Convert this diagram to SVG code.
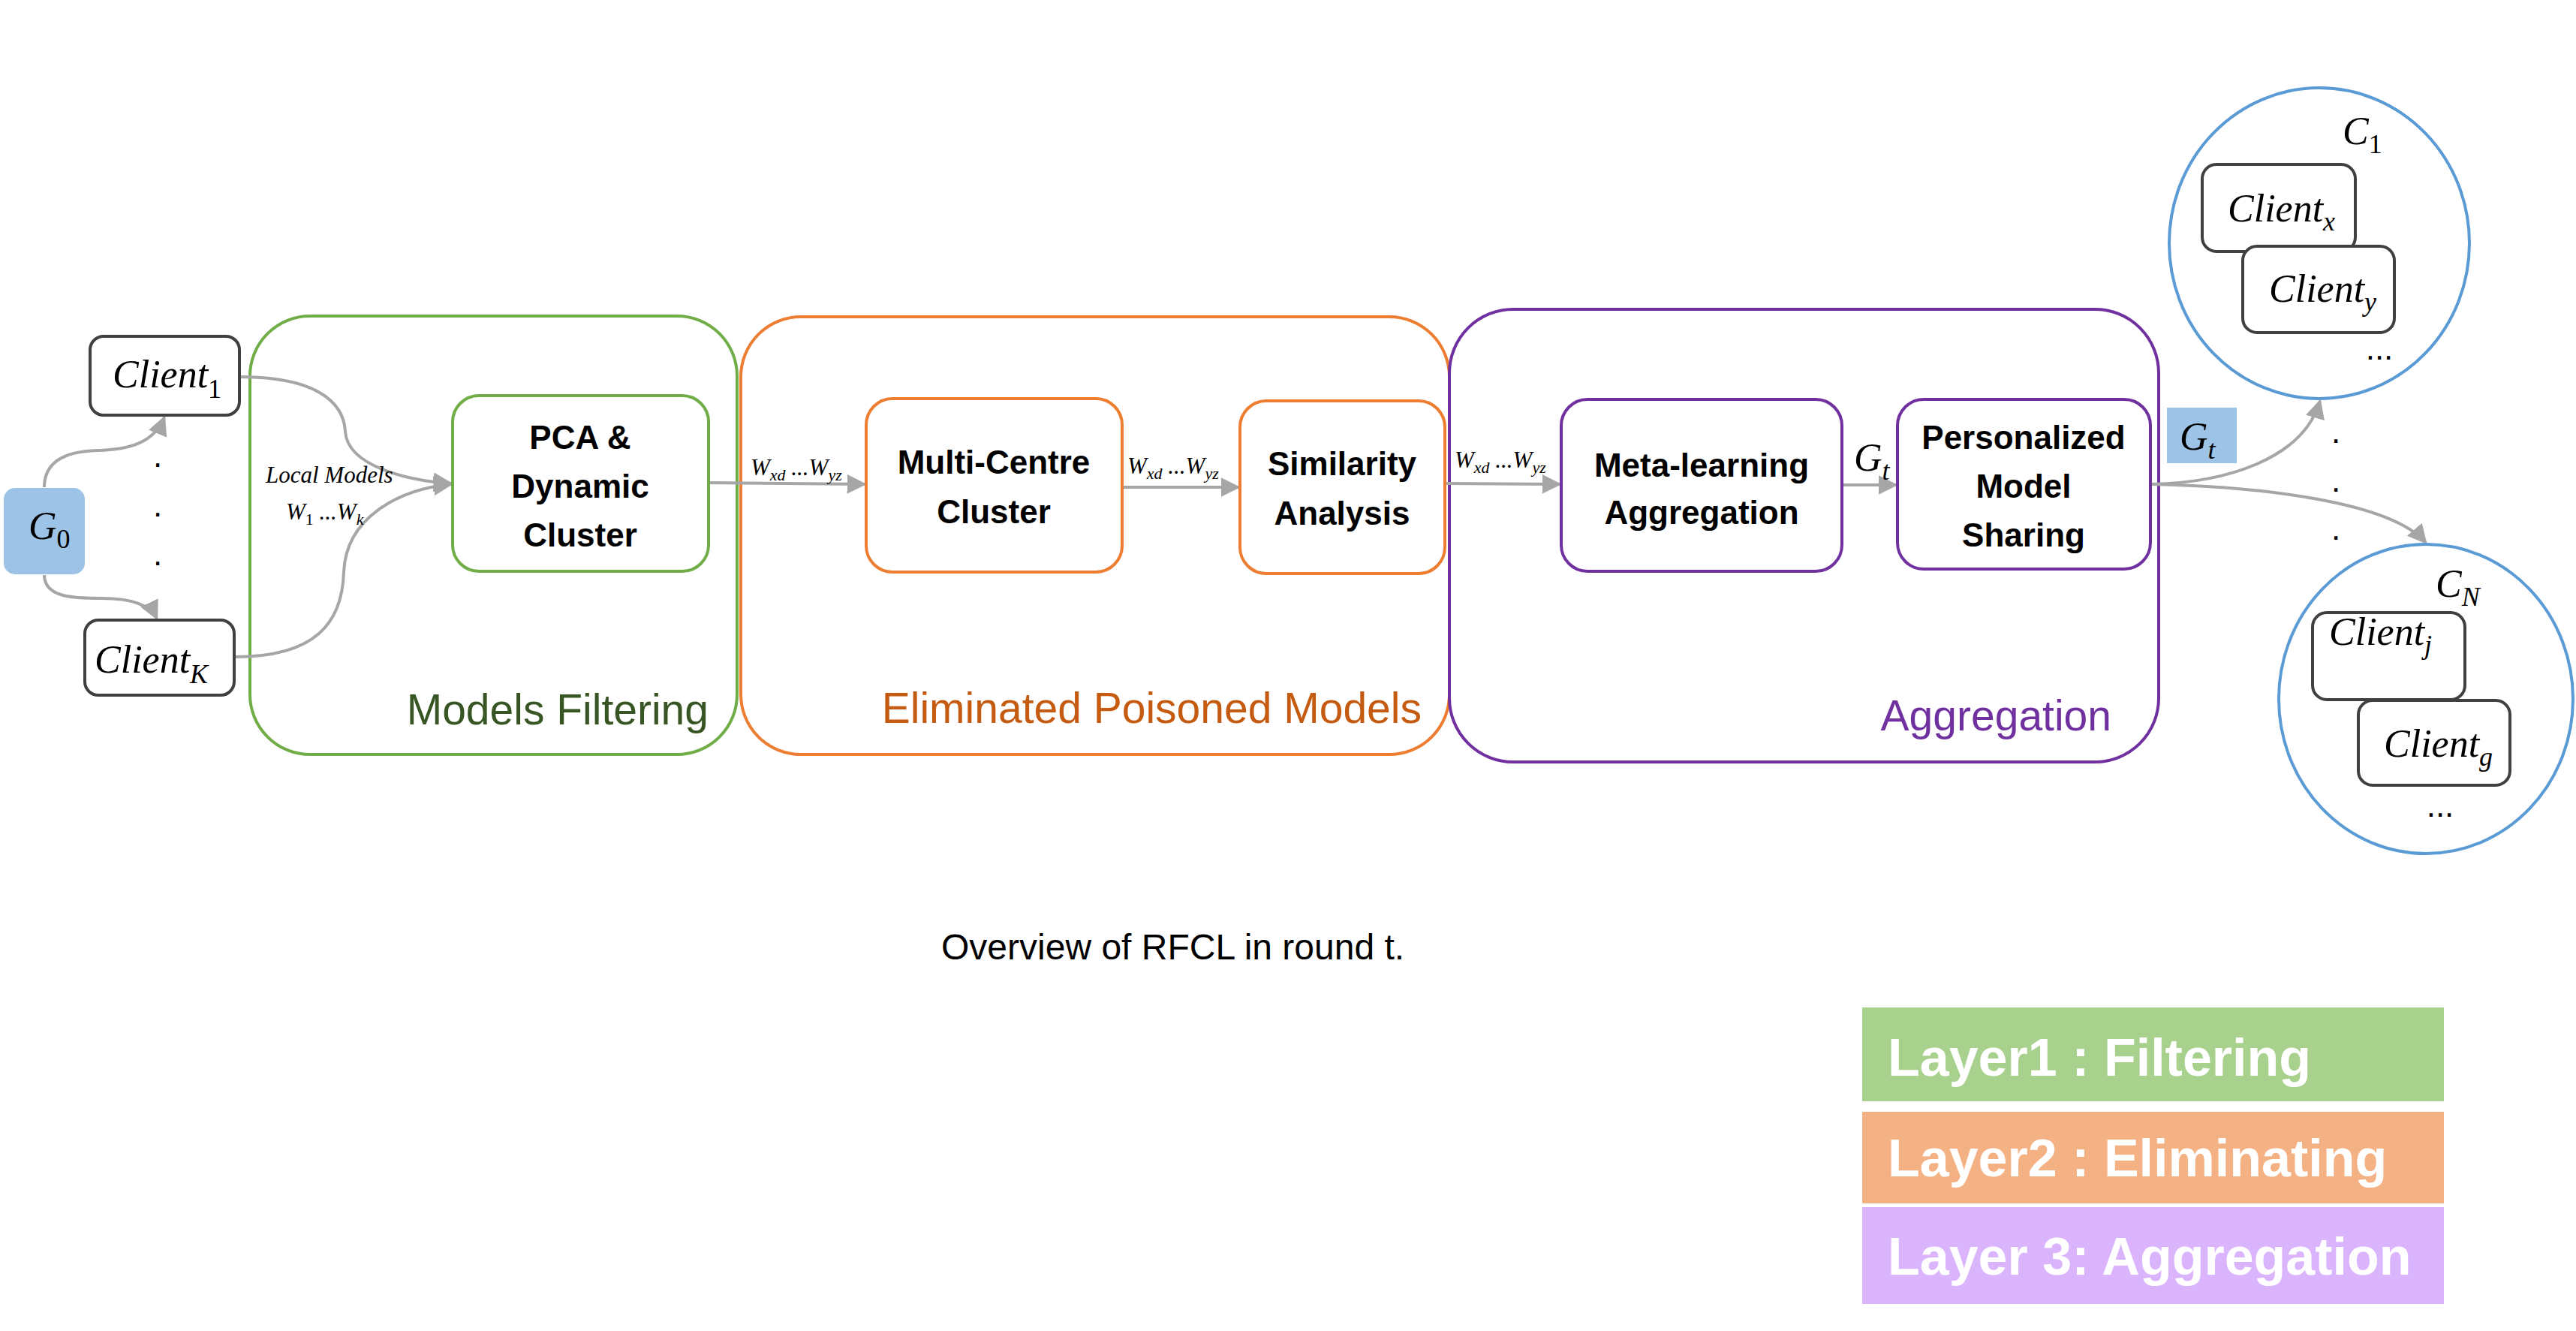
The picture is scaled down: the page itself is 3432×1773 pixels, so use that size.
<svg xmlns="http://www.w3.org/2000/svg" width="3432" height="1773" viewBox="0 0 3432 1773">
<style>
.bg{fill:#ffffff}
.outer{fill:none;stroke-width:4}
.inner{fill:#ffffff;stroke-width:4}
.green{stroke:#70AD47}
.orange{stroke:#ED7D31}
.purple{stroke:#7030A0}
.client{fill:#ffffff;stroke:#404040;stroke-width:4}
.circ{fill:#ffffff;stroke:#5B9BD5;stroke-width:4}
.conn{fill:none;stroke:#A6A6A6;stroke-width:4}
.bold{font-family:"Liberation Sans",Arial,sans-serif;font-weight:bold;font-size:44px;fill:#000;text-anchor:middle}
.math{font-family:"Liberation Serif","Times New Roman",serif;font-style:italic;font-size:52px;fill:#000}
.sm{font-family:"Liberation Serif","Times New Roman",serif;font-style:italic;font-size:31px;fill:#000}
.up{font-style:normal}
.big{font-family:"Liberation Sans",Arial,sans-serif;font-size:57px;text-anchor:end}
.leg{font-family:"Liberation Sans",Arial,sans-serif;font-weight:bold;font-size:70px;fill:#ffffff}
.dot{font-family:"Liberation Sans",Arial,sans-serif;font-size:44px;fill:#000;text-anchor:middle}
.cap{font-family:"Liberation Sans",Arial,sans-serif;font-size:48px;fill:#000}
</style>
<defs>
<marker id="arr" viewBox="0 0 10 10" refX="9" refY="5" markerUnits="userSpaceOnUse" markerWidth="26" markerHeight="26" orient="auto">
<path d="M0,0 L10,5 L0,10 z" fill="#A6A6A6"/>
</marker>
</defs>
<rect class="bg" x="0" y="0" width="3432" height="1773"/>

<g id="layer-filtering">
<rect class="outer green" x="333" y="421" width="649" height="584" rx="80"/>
<text class="big" x="944" y="965" fill="#375623">Models Filtering</text>
</g>
<g id="layer-eliminating">
<rect class="outer orange" x="987" y="422" width="944" height="583" rx="80"/>
<text class="big" x="1894" y="963" fill="#C55A11">Eliminated Poisoned Models</text>
</g>
<g id="layer-aggregation">
<rect class="outer purple" x="1931" y="412" width="945" height="603" rx="85"/>
<text class="big" x="2813" y="973" fill="#7030A0">Aggregation</text>
</g>

<g id="connectors">
<path class="conn" d="M59,649 C59,612 92,601 130,600 C172,599 205,590 219,556" marker-end="url(#arr)"/>
<path class="conn" d="M59,766 C59,796 98,797 135,797 C172,797 200,805 209,824" marker-end="url(#arr)"/>
<path class="conn" d="M320,502 C420,502 458,535 460,575 C463,620 540,640 601,644" marker-end="url(#arr)"/>
<path class="conn" d="M313,875 C420,875 456,830 458,762 C461,690 530,652 601,645" marker-end="url(#arr)"/>
<path class="conn" d="M944,643 L1152,645" marker-end="url(#arr)"/>
<path class="conn" d="M1495,649 L1650,649" marker-end="url(#arr)"/>
<path class="conn" d="M1925,644 L2078,645" marker-end="url(#arr)"/>
<path class="conn" d="M2454,646 L2526,646" marker-end="url(#arr)"/>
<path class="conn" d="M2866,645 C2965,643 3068,612 3091,534" marker-end="url(#arr)"/>
<path class="conn" d="M2866,645 C3010,648 3185,668 3232,723" marker-end="url(#arr)"/>
<text class="sm" x="354" y="643">Local Models</text>
<text class="sm" x="381" y="692">W<tspan class="up" dy="7" font-size="22">1</tspan><tspan dy="-7"> ...W</tspan><tspan dy="7" font-size="22">k</tspan></text>
<text class="sm" x="1000" y="633">W<tspan dy="7" font-size="22">xd</tspan><tspan dy="-7"> ...W</tspan><tspan dy="7" font-size="22">yz</tspan></text>
<text class="sm" x="1502" y="631">W<tspan dy="7" font-size="22">xd</tspan><tspan dy="-7"> ...W</tspan><tspan dy="7" font-size="22">yz</tspan></text>
<text class="sm" x="1938" y="623">W<tspan dy="7" font-size="22">xd</tspan><tspan dy="-7"> ...W</tspan><tspan dy="7" font-size="22">yz</tspan></text>
<text class="math" x="2470" y="627">G<tspan dy="12" font-size="36">t</tspan></text>
</g>

<g id="g0">
<rect x="5" y="650" width="108" height="115" rx="15" fill="#9DC3E6"/>
<text class="math" x="38" y="718">G<tspan class="up" dy="12" font-size="36">0</tspan></text>
</g>
<g id="client-1">
<rect class="client" x="120" y="448" width="199" height="105" rx="18"/>
<text class="math" x="150" y="516">Client<tspan class="up" dy="14" font-size="36">1</tspan></text>
</g>
<g id="client-dots">
<text class="dot" x="210" y="622">.</text>
<text class="dot" x="210" y="688">.</text>
<text class="dot" x="210" y="753">.</text>
</g>
<g id="client-k">
<rect class="client" x="113" y="826" width="199" height="100" rx="18"/>
<text class="math" x="126" y="896">Client<tspan dy="14" font-size="36">K</tspan></text>
</g>

<g id="pca">
<rect class="inner green" x="603" y="527" width="341" height="234" rx="35"/>
<text class="bold" x="773" y="598">PCA &amp;</text>
<text class="bold" x="773" y="663">Dynamic</text>
<text class="bold" x="773" y="728">Cluster</text>
</g>
<g id="multi-centre">
<rect class="inner orange" x="1154" y="531" width="341" height="231" rx="35"/>
<text class="bold" x="1324" y="631">Multi-Centre</text>
<text class="bold" x="1324" y="697">Cluster</text>
</g>
<g id="similarity">
<rect class="inner orange" x="1652" y="534" width="273" height="230" rx="35"/>
<text class="bold" x="1788" y="633">Similarity</text>
<text class="bold" x="1788" y="699">Analysis</text>
</g>
<g id="meta">
<rect class="inner purple" x="2080" y="532" width="374" height="229" rx="35"/>
<text class="bold" x="2267" y="635">Meta-learning</text>
<text class="bold" x="2267" y="698">Aggregation</text>
</g>
<g id="personalized">
<rect class="inner purple" x="2528" y="532" width="337" height="226" rx="35"/>
<text class="bold" x="2696" y="598">Personalized</text>
<text class="bold" x="2696" y="663">Model</text>
<text class="bold" x="2696" y="728">Sharing</text>
</g>
<g id="gt">
<rect x="2887" y="543" width="93" height="74" fill="#9DC3E6"/>
<text class="math" x="2904" y="599">G<tspan dy="12" font-size="36">t</tspan></text>
</g>
<g id="out-dots">
<text class="dot" x="3112" y="590">.</text>
<text class="dot" x="3112" y="655">.</text>
<text class="dot" x="3112" y="719">.</text>
</g>

<g id="cluster-1">
<ellipse class="circ" cx="3090" cy="324" rx="200" ry="207"/>
<text class="math" x="3121" y="192">C<tspan class="up" dy="12" font-size="36">1</tspan></text>
<rect class="client" x="2934" y="219" width="204" height="116" rx="19"/>
<text class="math" x="2968" y="295">Client<tspan dy="12" font-size="36">x</tspan></text>
<rect class="client" x="2988" y="328" width="202" height="115" rx="19"/>
<text class="math" x="3023" y="402">Client<tspan dy="12" font-size="36">y</tspan></text>
<text class="dot" x="3170" y="479" font-size="34">...</text>
</g>
<g id="cluster-n">
<ellipse class="circ" cx="3232" cy="931" rx="196" ry="206"/>
<text class="math" x="3245" y="795">C<tspan dy="12" font-size="36">N</tspan></text>
<rect class="client" x="3081" y="816" width="203" height="116" rx="19"/>
<text class="math" x="3103" y="859">Client<tspan dy="12" font-size="36">j</tspan></text>
<rect class="client" x="3142" y="933" width="202" height="113" rx="19"/>
<text class="math" x="3176" y="1008">Client<tspan dy="12" font-size="36">g</tspan></text>
<text class="dot" x="3251" y="1088" font-size="34">...</text>
</g>

<g id="caption">
<text class="cap" x="1254" y="1278">Overview of RFCL in round t.</text>
</g>

<g id="legend">
<rect x="2481" y="1342" width="775" height="125" fill="#A9D18E"/>
<text class="leg" x="2515" y="1433">Layer1 : Filtering</text>
<rect x="2481" y="1481" width="775" height="122" fill="#F4B183"/>
<text class="leg" x="2515" y="1567">Layer2 : Eliminating</text>
<rect x="2481" y="1608" width="775" height="129" fill="#DAB4FD"/>
<text class="leg" x="2515" y="1698">Layer 3: Aggregation</text>
</g>
</svg>
